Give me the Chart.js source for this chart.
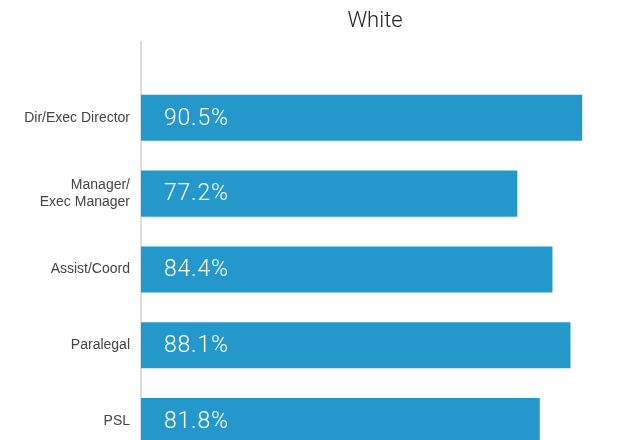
<!DOCTYPE html>
<html>
<head>
<meta charset="utf-8">
<script src="https://cdn.jsdelivr.net/npm/chart.js@4.4.1/dist/chart.umd.min.js"></script>
<style>
html, body { margin: 0; padding: 0; background: #fff; overflow: hidden; }
#wrap { width: 640px; height: 440px; }
</style>
</head>
<body>
<div id="wrap"><canvas id="chart"></canvas></div>
<script>
const title = 'White';
const categories = [['Dir/Exec Director'], ['Manager/', 'Exec Manager'], ['Assist/Coord'], ['Paralegal'], ['PSL']];
const values = [90.5, 77.2, 84.4, 88.1, 81.8];

// percentage text written inside each bar
const barText = {
	id: 'barText',
	afterDatasetsDraw(chart) {
		const ctx = chart.ctx;
		const meta = chart.getDatasetMeta(0);
		ctx.save();
		ctx.font = '300 23px Roboto, "Liberation Sans", sans-serif';
		ctx.letterSpacing = '0.8px';
		ctx.fillStyle = '#ffffff';
		ctx.textBaseline = 'middle';
		meta.data.forEach((bar, i) => {
			ctx.fillText(values[i].toFixed(1) + '%', bar.base + 23, bar.y + 1);
		});
		ctx.restore();
	}
};

new Chart(document.getElementById('chart'), {
	type: 'bar',
	data: {
		datasets: [{
			data: values.map((v, i) => ({ x: v, y: i })),
			backgroundColor: '#2598cb',
			borderWidth: 0,
			categoryPercentage: 0.8,
			barPercentage: 0.76
		}]
	},
	options: {
		indexAxis: 'y',
		responsive: true,
		maintainAspectRatio: false,
		animation: false,
		layout: { padding: { left: 0, right: 31, top: 0, bottom: 0 } },
		scales: {
			x: { type: 'linear', min: 0, max: 96, display: false },
			y: {
				type: 'linear',
				reverse: true,
				offset: false,
				min: -1,
				max: 4.25,
				afterBuildTicks: s => { s.ticks = categories.map((c, i) => ({ value: i })); },
				afterFit: s => { s.width = 141; s.paddingTop = 0; s.paddingBottom = 0; },
				grid: { display: false, drawTicks: false, offset: false },
				border: { display: true, color: '#dddddd', width: 2 },
				ticks: {
					padding: 11,
					color: '#444444',
					font: { family: '"Liberation Sans", sans-serif', size: 14, lineHeight: 1.25 },
					callback: v => categories[v]
				}
			}
		},
		plugins: {
			legend: { display: false },
			tooltip: { enabled: false },
			title: {
				display: true,
				text: title,
				fullSize: false,
				color: '#222222',
				font: { family: 'Roboto, "Liberation Sans", sans-serif', size: 22, weight: '300' },
				padding: { top: 8, bottom: 7.6 }
			}
		}
	},
	plugins: [barText]
});
</script>
</body>
</html>
